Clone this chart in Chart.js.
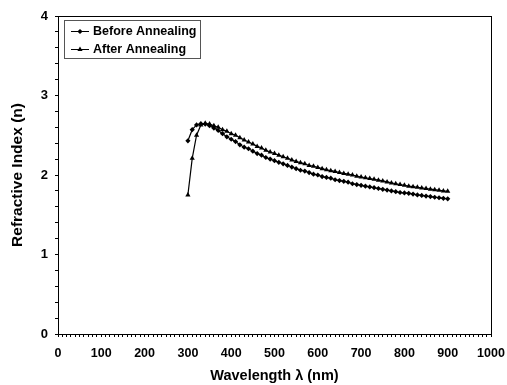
<!DOCTYPE html>
<html>
<head>
<meta charset="utf-8">
<script src="https://cdn.jsdelivr.net/npm/chart.js@4"></script>
<style>
    html, body { margin: 0; padding: 0; background: #fff; }
    #wrap { width: 507px; height: 385px; }
</style>
</head>
<body>
<div id="wrap"><canvas id="chart"></canvas></div>
<script>
const wavelengths = [];
for (let w = 300; w <= 900; w += 10) wavelengths.push(w);

const beforeAnnealing = [
    2.43, 2.57, 2.63, 2.645, 2.64, 2.62, 2.59, 2.56, 2.52, 2.48,
    2.45, 2.42, 2.38, 2.35, 2.33, 2.30, 2.27, 2.25, 2.22, 2.20,
    2.18, 2.16, 2.14, 2.12, 2.10, 2.08, 2.06, 2.05, 2.03, 2.01,
    2.00, 1.98, 1.97, 1.96, 1.94, 1.93, 1.92, 1.91, 1.89, 1.88,
    1.87, 1.86, 1.85, 1.84, 1.83, 1.82, 1.81, 1.80, 1.79, 1.78,
    1.775, 1.77, 1.76, 1.75, 1.743, 1.735, 1.728, 1.72, 1.714, 1.707,
    1.70
];

const afterAnnealing = [
    1.75, 2.21, 2.50, 2.63, 2.65, 2.64, 2.62, 2.60, 2.57, 2.55,
    2.52, 2.50, 2.47, 2.44, 2.415, 2.39, 2.36, 2.34, 2.31, 2.29,
    2.27, 2.25, 2.23, 2.21, 2.19, 2.17, 2.155, 2.14, 2.12, 2.11,
    2.095, 2.08, 2.065, 2.055, 2.045, 2.03, 2.02, 2.01, 2.0, 1.985,
    1.975, 1.965, 1.955, 1.945, 1.935, 1.925, 1.913, 1.90, 1.89, 1.88,
    1.87, 1.86, 1.853, 1.845, 1.837, 1.83, 1.822, 1.815, 1.808, 1.80,
    1.795
];

const seriesLabels = ['Before Annealing', 'After Annealing'];
const font = 'Arial, "Liberation Sans", sans-serif';

// frame round the plot area
const frame = {
    id: 'frame',
    afterDraw(chart) {
        const { ctx, chartArea: a } = chart;
        ctx.save();
        ctx.strokeStyle = '#000';
        ctx.lineWidth = 1;
        ctx.strokeRect(a.left + 0.5, a.top + 0.5, a.right - a.left, a.bottom - a.top);
        ctx.restore();
    }
};

// boxed legend inside the top-left corner
const innerLegend = {
    id: 'innerLegend',
    afterDraw(chart) {
        const { ctx, chartArea: a } = chart;
        const x = a.left + 6, y = a.top + 4, w = 136, h = 38;
        ctx.save();
        ctx.fillStyle = '#fff';
        ctx.fillRect(x, y, w, h);
        ctx.strokeStyle = '#555';
        ctx.lineWidth = 1;
        ctx.strokeRect(x + 0.5, y + 0.5, w, h);
        ctx.font = 'bold 12.5px ' + font;
        ctx.textBaseline = 'middle';
        chart.data.datasets.forEach((ds, i) => {
            const cy = y + 11 + i * 18;
            ctx.strokeStyle = '#000';
            ctx.beginPath();
            ctx.moveTo(x + 7, cy + 0.5);
            ctx.lineTo(x + 25, cy + 0.5);
            ctx.stroke();
            ctx.fillStyle = '#000';
            Chart.helpers.drawPoint(ctx, { pointStyle: ds.pointStyle, radius: ds.pointRadius, borderWidth: 0 }, x + 16, cy + 0.5);
            ctx.fillStyle = '#000';
            ctx.fillText(ds.label, x + 29, cy + 1);
        });
        ctx.restore();
    }
};

new Chart(document.getElementById('chart'), {
    type: 'line',
    data: {
        datasets: [
            {
                label: seriesLabels[0],
                data: wavelengths.map((w, i) => ({ x: w, y: beforeAnnealing[i] })),
                borderColor: '#000',
                backgroundColor: '#000',
                borderWidth: 1.2,
                pointStyle: 'rectRot',
                pointRadius: 2.6,
                pointBorderWidth: 0,
                tension: 0
            },
            {
                label: seriesLabels[1],
                data: wavelengths.map((w, i) => ({ x: w, y: afterAnnealing[i] })),
                borderColor: '#000',
                backgroundColor: '#000',
                borderWidth: 1.2,
                pointStyle: 'triangle',
                pointRadius: 3,
                pointBorderWidth: 0,
                tension: 0
            }
        ]
    },
    options: {
        responsive: true,
        maintainAspectRatio: false,
        animation: false,
        layout: { padding: { top: 16, right: 16, left: 0, bottom: 0 } },
        plugins: {
            legend: { display: false },
            tooltip: { enabled: false }
        },
        scales: {
            x: {
                type: 'linear',
                min: 0,
                max: 1000,
                afterFit: (s) => { s.height = 51; s.paddingLeft = 0; s.paddingRight = 0; },
                border: { color: '#000', width: 1 },
                grid: { drawOnChartArea: false, color: '#000', tickLength: 3 },
                ticks: {
                    stepSize: 10,
                    autoSkip: false,
                    maxRotation: 0,
                    minRotation: 0,
                    color: '#000',
                    padding: 9,
                    font: { family: font, size: 12.5, weight: 'bold' },
                    callback: (v) => (v % 100 === 0 ? v : '')
                },
                title: {
                    display: true,
                    text: 'Wavelength λ (nm)',
                    color: '#000',
                    padding: { top: 0, bottom: 0 },
                    font: { family: font, size: 14.5, weight: 'bold' }
                }
            },
            y: {
                min: 0,
                max: 4,
                afterFit: (s) => { s.width = 58; },
                border: { color: '#000', width: 1 },
                grid: { drawOnChartArea: false, color: '#000', tickLength: 3 },
                ticks: {
                    stepSize: 0.2,
                    autoSkip: false,
                    color: '#000',
                    padding: 7,
                    font: { family: font, size: 13, weight: 'bold' },
                    callback: (v) => (Math.abs(v - Math.round(v)) < 1e-6 ? Math.round(v) : '')
                },
                title: {
                    display: true,
                    text: 'Refractive Index (n)',
                    color: '#000',
                    padding: { top: 8, bottom: 0 },
                    font: { family: font, size: 15.5, weight: 'bold' }
                }
            }
        }
    },
    plugins: [frame, innerLegend]
});
</script>
</body>
</html>
